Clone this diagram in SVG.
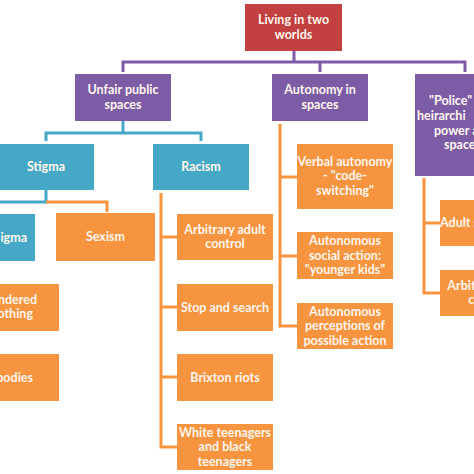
<svg xmlns="http://www.w3.org/2000/svg" width="474" height="474" viewBox="0 0 474 474">
<style>
.red{fill:#C2403F}
.pur{fill:#7D5CA6}
.teal{fill:#45A8C6}
.org{fill:#F6943F}
text{font-family:Lato,"Liberation Sans",sans-serif;font-weight:700;font-size:12.5px;fill:#FFF6EE;text-anchor:middle}
.s{text-anchor:start}
.e{text-anchor:end}
.cp{stroke:#7D5CA6}
.ct{stroke:#45A8C6}
.co{stroke:#F6943F}
#connectors path{fill:none;stroke-width:3}
</style>
<rect width="474" height="474" fill="#FFFFFF"/>
<g id="connectors">
<path class="cp" d="M294 51V62M123 72V62H465V72M320 62V72"/>
<path class="ct" d="M123 121V133M46 141V133H201V141"/>
<path class="ct" d="M46 190V202H0"/>
<path class="co" d="M46 202H107V212"/>
<path class="co" d="M161 193V447H177M161 237H177M161 307H177M161 377H177"/>
<path class="co" d="M280 124V326H297M280 177H297M280 256H297"/>
<path class="co" d="M424 178V293H440M424 223H440"/>
</g>
<g id="root"><rect class="red" x="245" y="4" width="97" height="47"/><text x="293.5" y="24">Living in two</text><text x="293.5" y="39">worlds</text></g>
<g id="unfair"><rect class="pur" x="75" y="74" width="96" height="47"/><text x="123" y="94">Unfair public</text><text x="123" y="109">spaces</text></g>
<g id="autonomy"><rect class="pur" x="272" y="74" width="96" height="47"/><text x="320" y="94">Autonomy in</text><text x="320" y="109">spaces</text></g>
<g id="police"><rect class="pur" x="415" y="74" width="100" height="102"/><text class="s" x="429" y="105">"Police"</text><text class="s" x="417" y="120">heirarchi</text><text class="s" x="434" y="134.5">power a</text><text class="s" x="444" y="149">space</text></g>
<g id="stigma"><rect class="teal" x="-2" y="144" width="96" height="46"/><text x="46" y="171">Stigma</text></g>
<g id="racism"><rect class="teal" x="153" y="144" width="96" height="46"/><text x="201" y="171">Racism</text></g>
<g id="substigma"><rect class="teal" x="-61" y="214" width="96" height="47"/><text class="e" x="27" y="241.5">igma</text></g>
<g id="sexism"><rect class="org" x="56" y="213" width="99" height="48"/><text x="105.5" y="241">Sexism</text></g>
<g id="clothing"><rect class="org" x="-37" y="284" width="96" height="47"/><text class="e" x="37" y="303.5">ndered</text><text class="e" x="33" y="318">othing</text></g>
<g id="bodies"><rect class="org" x="-37" y="354" width="96" height="47"/><text class="e" x="33" y="381.5">bodies</text></g>
<g id="arbitrary"><rect class="org" x="177" y="214" width="96" height="46"/><text x="225" y="233.5">Arbitrary adult</text><text x="225" y="248">control</text></g>
<g id="stop"><rect class="org" x="177" y="284" width="96" height="47"/><text x="225" y="311.5">Stop and search</text></g>
<g id="brixton"><rect class="org" x="177" y="354" width="96" height="47"/><text x="225" y="381.5">Brixton riots</text></g>
<g id="white"><rect class="org" x="177" y="424" width="96" height="46"/><text x="225" y="436.5">White teenagers</text><text x="225" y="451">and black</text><text x="225" y="465.5">teenagers</text></g>
<g id="verbal"><rect class="org" x="297" y="144" width="96" height="65"/><text x="345" y="165.5">Verbal autonomy</text><text x="345" y="180">- "code-</text><text x="345" y="194.5">switching"</text></g>
<g id="social"><rect class="org" x="297" y="232" width="96" height="47"/><text x="345" y="245">Autonomous</text><text x="345" y="259.5">social action:</text><text x="345" y="274">"younger kids"</text></g>
<g id="perceptions"><rect class="org" x="297" y="303" width="96" height="46"/><text x="345" y="315.5">Autonomous</text><text x="345" y="330">perceptions of</text><text x="345" y="344.5">possible action</text></g>
<g id="adult"><rect class="org" x="440" y="200" width="96" height="46"/><text class="s" x="440" y="227">Adult s</text></g>
<g id="arbitrary2"><rect class="org" x="440" y="270" width="96" height="46"/><text x="488" y="289.5">Arbitrary adult</text><text x="488" y="304">control</text></g>
</svg>
